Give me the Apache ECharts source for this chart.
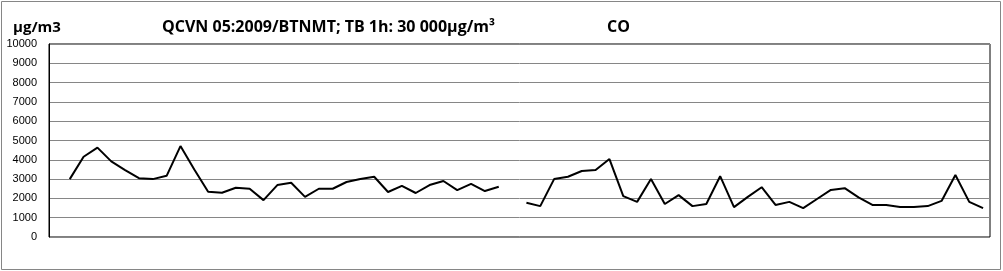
<!DOCTYPE html>
<html>
<head>
<meta charset="utf-8">
<script src="https://cdn.jsdelivr.net/npm/echarts@6/dist/echarts.min.js"></script>
<style>
html,body{margin:0;padding:0;background:#fff;}
#c{width:1003px;height:271px;}
</style>
</head>
<body>
<div id="c"></div>
<script>
// Data (µg/m3)
const yTicks = [0, 1000, 2000, 3000, 4000, 5000, 6000, 7000, 8000, 9000, 10000];
const segment1 = [3000, 4160, 4630, 3920, 3470, 3050, 3000, 3170, 4710, 3500,
  2340, 2290, 2550, 2500, 1910, 2690, 2810, 2080, 2500, 2500,
  2850, 3000, 3120, 2330, 2650, 2280, 2690, 2900, 2430, 2750,
  2380, 2600];
const segment2 = [1770, 1600, 3000, 3120, 3420, 3470, 4040, 2120, 1820, 3000,
  1710, 2170, 1600, 1710, 3150, 1550, 2080, 2580, 1660, 1820,
  1500, 1970, 2440, 2530, 2050, 1660, 1660, 1560, 1560, 1600,
  1870, 3210, 1820, 1500];
const seriesValues = [null].concat(segment1, [null], segment2);
const categories = seriesValues.map((v, i) => String(i + 1));

const titleMain = 'QCVN 05:2009/BTNMT; TB 1h: 30 000µg/m³';
const unitLabel = 'µg/m3';
const pollutant = 'CO';

const chart = echarts.init(document.getElementById('c'), null, {renderer: 'canvas'});
const titleFont = {fontFamily: 'Open Sans', fontWeight: 'bold', fontSize: 16, color: '#000'};
chart.setOption({
  animation: false,
  backgroundColor: '#fff',
  title: [
    {text: unitLabel, left: 8, top: 15, textStyle: Object.assign({}, titleFont, {fontSize: 15})},
    {text: titleMain, left: 157, top: 14, textStyle: titleFont},
    {text: pollutant, left: 602, top: 14, textStyle: titleFont}
  ],
  graphic: [{
    type: 'rect', shape: {x: 1.5, y: 1.5, width: 999, height: 268},
    style: {fill: null, stroke: '#868686', lineWidth: 1}, silent: true, z: -1
  }],
  grid: {left: 49, right: 13, top: 44, bottom: 34, show: true, borderColor: '#000', borderWidth: 1, backgroundColor: 'transparent'},
  xAxis: {
    type: 'category', data: categories, boundaryGap: true,
    axisLine: {show: false}, axisTick: {show: false}, axisLabel: {show: false}, splitLine: {show: false}
  },
  yAxis: {
    type: 'value', min: yTicks[0], max: yTicks[yTicks.length - 1], interval: 1000,
    axisLine: {show: true, lineStyle: {color: '#000', width: 1}},
    axisTick: {show: false},
    axisLabel: {margin: 12, fontFamily: 'Liberation Sans', fontSize: 11, color: '#000',
      formatter: function (v) { return String(v); }},
    splitLine: {show: true, lineStyle: {color: '#868686', width: 1}}
  },
  series: [{
    type: 'line', data: seriesValues, connectNulls: false, showSymbol: false, symbol: 'none',
    lineStyle: {color: '#000', width: 2}, itemStyle: {color: '#000'}
  }]
});
</script>
</body>
</html>
